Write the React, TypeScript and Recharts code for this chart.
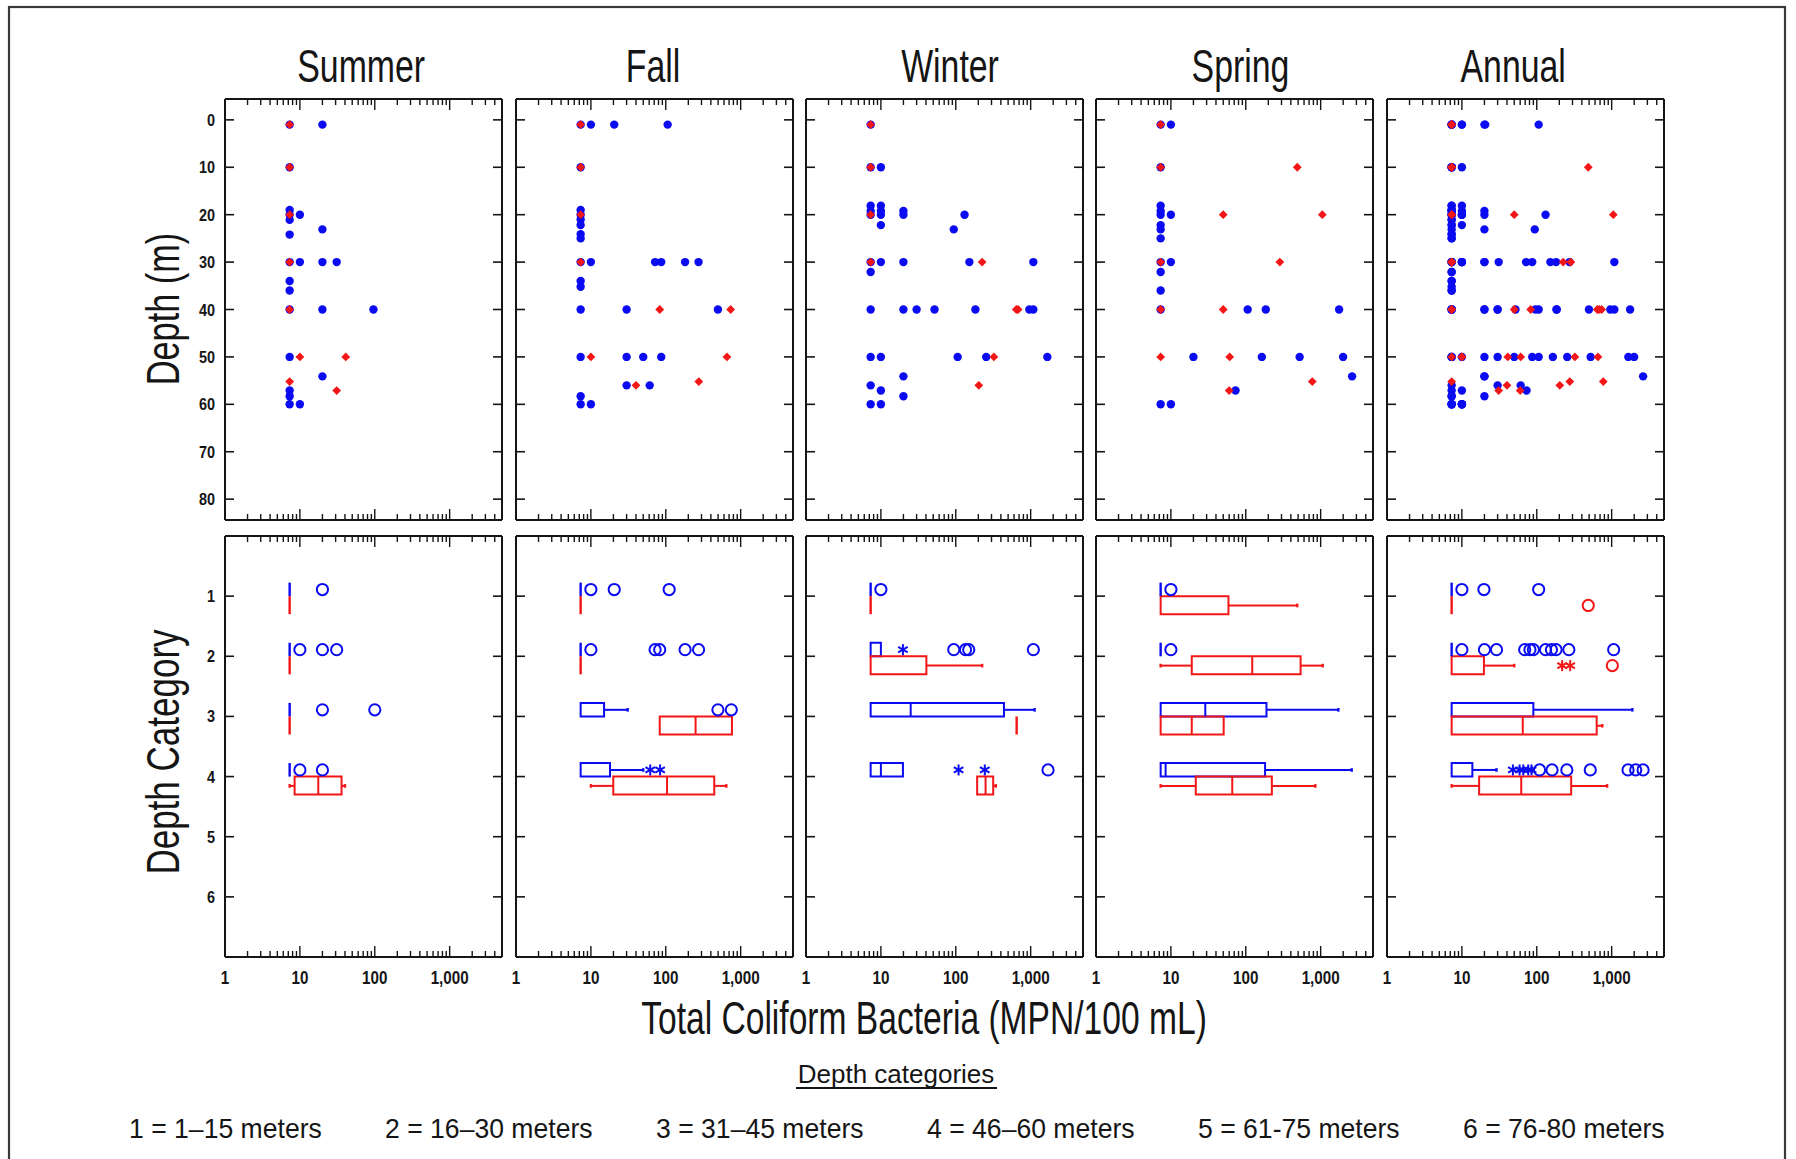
import React from 'react';
import { ScatterChart, Scatter, XAxis, YAxis, ReferenceArea, ReferenceLine } from 'recharts';

type Pt = [number, number];
type Box = [number, number, number, number, number, number]; // cat, min, q1, median, q3, max

const SEASONS = ['Summer', 'Fall', 'Winter', 'Spring', 'Annual'];
const DEPTH_TICKS = [0, 10, 20, 30, 40, 50, 60, 70, 80];
const CATEGORY_TICKS = [1, 2, 3, 4, 5, 6];
const LOG_TICKS = [1, 2, 3, 4, 5, 6, 7, 8, 9, 10, 20, 30, 40, 50, 60, 70, 80, 90, 100, 200, 300, 400, 500, 600, 700, 800, 900, 1000, 2000, 3000, 4000, 5000];
const MAJOR_TICKS = [1, 10, 100, 1000];
const X_TICK_LABELS = ['1', '10', '100', '1,000'];
const LEGEND_ITEMS = ['1 = 1–15 meters', '2 = 16–30 meters', '3 = 31–45 meters', '4 = 46–60 meters', '5 = 61-75 meters', '6 = 76-80 meters'];

// ---- Top row: individual samples [value, depth] ----
const summerBlue: Pt[] = [[7.3, 1], [20, 1], [7.3, 10], [7.3, 19], [7.3, 20], [10, 20], [7.3, 21.1], [20, 23.1], [7.3, 24.2], [7.3, 30], [10, 30], [20, 30], [31, 30], [7.3, 34], [7.3, 36], [7.3, 40], [20, 40], [96, 40], [7.3, 50], [20, 54.1], [7.3, 57.1], [7.3, 58.3], [7.3, 60], [10, 60]];
const summerRed: Pt[] = [[7.3, 1], [7.3, 10], [7.3, 20], [7.3, 30], [7.3, 40], [10, 50], [41, 50], [7.3, 55.2], [31, 57.1]];

const fallBlue: Pt[] = [[7.3, 1], [10, 1], [20.5, 1], [106, 1], [7.3, 10], [7.3, 19], [7.3, 20], [7.3, 21], [7.3, 22.2], [7.3, 24.1], [7.3, 25], [7.3, 30], [10, 30], [72, 30], [87, 30], [181, 30], [274, 30], [7.3, 34], [7.3, 35.2], [7.3, 40], [30, 40], [497, 40], [7.3, 50], [30, 50], [50, 50], [87, 50], [30, 56], [61, 56], [7.3, 58.3], [7.3, 60], [10, 60]];
const fallRed: Pt[] = [[7.3, 1], [7.3, 10], [7.3, 20], [7.3, 30], [83, 40], [735, 40], [10, 50], [656, 50], [40, 56], [276, 55.2]];

const winterBlue: Pt[] = [[7.3, 1], [7.3, 10], [10, 10], [7.3, 18.1], [10, 18.1], [7.3, 19.2], [10, 19.2], [20, 19.2], [7.3, 20], [10, 20], [20, 20], [131, 20], [10, 22.2], [94, 23.1], [7.3, 30], [10, 30], [20, 30], [152, 30], [1086, 30], [7.3, 32.1], [7.3, 40], [20, 40], [30, 40], [52, 40], [183, 40], [960, 40], [1086, 40], [7.3, 50], [10, 50], [106, 50], [255, 50], [1670, 50], [20, 54.1], [7.3, 56], [10, 57.1], [20, 58.3], [7.3, 60], [10, 60]];
const winterRed: Pt[] = [[7.3, 1], [7.3, 10], [7.3, 20], [7.3, 30], [225, 30], [643, 40], [680, 40], [323, 50], [203, 56]];

const springBlue: Pt[] = [[7.3, 1], [10, 1], [7.3, 10], [7.3, 18.1], [7.3, 19.2], [7.3, 20], [10, 20], [7.3, 22.2], [7.3, 23.1], [7.3, 25], [7.3, 30], [10, 30], [7.3, 32.1], [7.3, 36], [7.3, 40], [106, 40], [185, 40], [1763, 40], [20, 50], [164, 50], [524, 50], [1995, 50], [2630, 54.1], [73, 57.1], [7.3, 60], [10, 60]];
const springRed: Pt[] = [[7.3, 1], [7.3, 10], [487, 10], [50, 20], [1052, 20], [7.3, 30], [285, 30], [7.3, 40], [50, 40], [7.3, 50], [61, 50], [773, 55.2], [60, 57.1]];

const annualBlue: Pt[] = [...summerBlue, ...fallBlue, ...winterBlue, ...springBlue];
const annualRed: Pt[] = [...summerRed, ...fallRed, ...winterRed, ...springRed];

// ---- Bottom row: box plots per depth category ----
const summerBlueBoxes: Box[] = [[1, 7.3, 7.3, 7.3, 7.3, 7.3], [2, 7.3, 7.3, 7.3, 7.3, 7.3], [3, 7.3, 7.3, 7.3, 7.3, 7.3], [4, 7.3, 7.3, 7.3, 7.3, 7.3]];
const summerRedBoxes: Box[] = [[1, 7.3, 7.3, 7.3, 7.3, 7.3], [2, 7.3, 7.3, 7.3, 7.3, 7.3], [3, 7.3, 7.3, 7.3, 7.3, 7.3], [4, 7.3, 8.5, 17.6, 36, 40]];
const fallBlueBoxes: Box[] = [[1, 7.3, 7.3, 7.3, 7.3, 7.3], [2, 7.3, 7.3, 7.3, 7.3, 7.3], [3, 7.3, 7.3, 7.3, 15, 31], [4, 7.3, 7.3, 7.3, 18, 50]];
const fallRedBoxes: Box[] = [[1, 7.3, 7.3, 7.3, 7.3, 7.3], [2, 7.3, 7.3, 7.3, 7.3, 7.3], [3, 83, 83, 250, 765, 765], [4, 10, 19.9, 104, 444, 643]];
const winterBlueBoxes: Box[] = [[1, 7.3, 7.3, 7.3, 7.3, 7.3], [2, 7.3, 7.3, 7.3, 10, 10], [3, 7.3, 7.3, 25, 440, 1130], [4, 7.3, 7.3, 10, 19.7, 19.7]];
const winterRedBoxes: Box[] = [[1, 7.3, 7.3, 7.3, 7.3, 7.3], [2, 7.3, 7.3, 7.3, 40.5, 225], [3, 650, 650, 650, 650, 650], [4, 193, 193, 250, 316, 343]];
const springBlueBoxes: Box[] = [[1, 7.3, 7.3, 7.3, 7.3, 7.3], [2, 7.3, 7.3, 7.3, 7.3, 7.3], [3, 7.3, 7.3, 28.8, 189, 1725], [4, 7.3, 7.3, 8.5, 181, 2600]];
const springRedBoxes: Box[] = [[1, 7.3, 7.3, 7.3, 58.7, 487], [2, 7.3, 19, 122, 540, 1065], [3, 7.3, 7.3, 19, 50.7, 50.7], [4, 7.3, 21.5, 66, 223, 850]];
const annualBlueBoxes: Box[] = [[1, 7.3, 7.3, 7.3, 7.3, 7.3], [2, 7.3, 7.3, 7.3, 7.3, 7.3], [3, 7.3, 7.3, 7.3, 90, 1890], [4, 7.3, 7.3, 7.3, 13.8, 29]];
const annualRedBoxes: Box[] = [[1, 7.3, 7.3, 7.3, 7.3, 7.3], [2, 7.3, 7.3, 7.3, 19.7, 50], [3, 7.3, 7.3, 65, 631, 750], [4, 7.3, 17, 62, 288, 870]];

// outliers [value, category]
const summerBlueCircles: Pt[] = [[20, 1], [10, 2], [20, 2], [31, 2], [20, 3], [100, 3], [10, 4], [20, 4]];
const fallBlueCircles: Pt[] = [[10, 1], [20.5, 1], [111, 1], [10, 2], [72, 2], [83, 2], [181, 2], [274, 2], [497, 3], [750, 3]];
const fallBlueStars: Pt[] = [[62, 4], [84, 4]];
const winterBlueCircles: Pt[] = [[10, 1], [94, 2], [135, 2], [149, 2], [1086, 2], [1706, 4]];
const winterBlueStars: Pt[] = [[19.7, 2], [109, 4], [244, 4]];
const springBlueCircles: Pt[] = [[10, 1], [10, 2]];
const annualBlueCircles: Pt[] = [[10, 1], [19.7, 1], [106, 1], [10, 2], [20, 2], [29, 2], [69, 2], [81, 2], [90, 2], [131, 2], [157, 2], [181, 2], [268, 2], [1064, 2], [109, 4], [160, 4], [252, 4], [518, 4], [1655, 4], [2095, 4], [2630, 4]];
const annualBlueStars: Pt[] = [[48, 4], [59, 4], [66, 4], [77, 4], [85, 4]];
const annualRedCircles: Pt[] = [[487, 1], [1021, 2]];
const annualRedStars: Pt[] = [[218, 2], [279, 2]];
const none: Pt[] = [];

const TOP_BLUE = [summerBlue, fallBlue, winterBlue, springBlue, annualBlue];
const TOP_RED = [summerRed, fallRed, winterRed, springRed, annualRed];
const BLUE_BOXES = [summerBlueBoxes, fallBlueBoxes, winterBlueBoxes, springBlueBoxes, annualBlueBoxes];
const RED_BOXES = [summerRedBoxes, fallRedBoxes, winterRedBoxes, springRedBoxes, annualRedBoxes];
const BLUE_CIRCLES = [summerBlueCircles, fallBlueCircles, winterBlueCircles, springBlueCircles, annualBlueCircles];
const BLUE_STARS = [none, fallBlueStars, winterBlueStars, none, annualBlueStars];
const RED_CIRCLES = [none, none, none, none, annualRedCircles];
const RED_STARS = [none, none, none, none, annualRedStars];

// ---- layout / style ----
const BLUE = '#0b0bf2';
const RED = '#f21616';
const INK = '#151515';
const FONT = "'Liberation Sans', Arial, Helvetica, sans-serif";
const PANEL_LEFTS = [224.7, 515.5, 805.5, 1096, 1386.7];
const TITLE_SHIFT = [-2, -1, 6, 6, -12];
const LEGEND_X = [129, 385, 656, 927, 1198, 1463];
const TOP_ROW_Y = 99.3;
const BOTTOM_ROW_Y = 535.5;
const PLOT_W = 277;
const PLOT_H = 421;
const LEFT_W = 60;
const RIGHT_W = 10;
const TOP_H = 10;
const BOTTOM_H = 50;
const W = LEFT_W + PLOT_W + RIGHT_W;
const H = TOP_H + PLOT_H + BOTTOM_H;
const DEPTH_DOMAIN: [number, number] = [-4.4, 84.4];
const CAT_DOMAIN: [number, number] = [0, 7];
const BLUE_BAND: [number, number] = [-0.225, 0];
const RED_BAND: [number, number] = [0, 0.3];
const BLUE_MID = -0.11;
const RED_MID = 0.155;
const AXIS_LINE = { stroke: INK, strokeWidth: 2 };

const toXY = (pts: Pt[], dy = 0) => pts.map(([x, y]) => ({ x, y: y + dy }));

const xTick = (edge: 'top' | 'bottom', labels: boolean) => (p: any) => {
  const v = p.payload.value;
  const i = MAJOR_TICKS.indexOf(v);
  const len = i >= 0 ? 11 : 6;
  const dir = edge === 'top' ? 1 : -1;
  return (
    <g>
      <line x1={p.x} x2={p.x} y1={p.y} y2={p.y + dir * len} stroke={INK} strokeWidth={1.4} />
      {labels && i >= 0 && (
        <text transform={`translate(${p.x},${p.y + 27}) scale(0.8,1)`} textAnchor="middle" fontFamily={FONT} fontWeight="bold" fontSize={19} fill={INK}>
          {X_TICK_LABELS[i]}
        </text>
      )}
    </g>
  );
};

const yTick = (edge: 'left' | 'right', labels: boolean) => (p: any) => {
  const dir = edge === 'left' ? 1 : -1;
  return (
    <g>
      <line x1={p.x} x2={p.x + dir * 9} y1={p.y} y2={p.y} stroke={INK} strokeWidth={1.6} />
      {labels && (
        <text transform={`translate(${p.x - 10},${p.y + 6}) scale(0.85,1)`} textAnchor="end" fontFamily={FONT} fontWeight="bold" fontSize={17} fill={INK}>
          {p.payload.value}
        </text>
      )}
    </g>
  );
};

const blueDot = (p: any) => <circle cx={p.cx} cy={p.cy} r={4.2} fill={BLUE} />;
const redDiamond = (p: any) => (
  <polygon points={`${p.cx},${p.cy - 4.4} ${p.cx + 4.4},${p.cy} ${p.cx},${p.cy + 4.4} ${p.cx - 4.4},${p.cy}`} fill={RED} />
);
const ring = (color: string) => (p: any) => <circle cx={p.cx} cy={p.cy} r={5.6} fill="none" stroke={color} strokeWidth={2} />;
const star = (color: string) => (p: any) => {
  const r = 5.5;
  const a = r * Math.cos(Math.PI / 6);
  const b = r * Math.sin(Math.PI / 6);
  return (
    <g stroke={color} strokeWidth={2}>
      <line x1={p.cx} x2={p.cx} y1={p.cy - r} y2={p.cy + r} />
      <line x1={p.cx - a} x2={p.cx + a} y1={p.cy - b} y2={p.cy + b} />
      <line x1={p.cx - a} x2={p.cx + a} y1={p.cy + b} y2={p.cy - b} />
    </g>
  );
};

const seg = (key: string, x1: number, y1: number, x2: number, y2: number, color: string, w = 2) => (
  <ReferenceLine key={key} xAxisId="b" yAxisId="l" segment={[{ x: x1, y: y1 }, { x: x2, y: y2 }]} stroke={color} strokeWidth={w} ifOverflow="visible" />
);

function boxElements(boxes: Box[], color: string, band: [number, number], mid: number, tag: string) {
  const els: React.ReactElement[] = [];
  boxes.forEach(([cat, min, q1, med, q3, max]) => {
    const ya = cat + band[0];
    const yb = cat + band[1];
    const ym = cat + mid;
    const k = `${tag}-${cat}`;
    if (q3 > q1) {
      els.push(
        <ReferenceArea key={`${k}-box`} xAxisId="b" yAxisId="l" x1={q1} x2={q3} y1={ya} y2={yb} fill="none" fillOpacity={0} stroke={color} strokeWidth={2} ifOverflow="visible" />
      );
      if (med > q1 && med < q3) els.push(seg(`${k}-med`, med, ya, med, yb, color));
    } else {
      els.push(seg(`${k}-line`, q1, ya, q1, yb, color, 2.4));
    }
    if (min < q1) {
      els.push(seg(`${k}-wl`, min, ym, q1, ym, color));
      els.push(seg(`${k}-cl`, min, ym - 0.03, min, ym + 0.03, color, 2.4));
    }
    if (max > q3) {
      els.push(seg(`${k}-wr`, q3, ym, max, ym, color));
      els.push(seg(`${k}-cr`, max, ym - 0.03, max, ym + 0.03, color, 2.4));
    }
  });
  return els;
}

function Panel({ left, top, depth, showY, children }: { left: number; top: number; depth: boolean; showY: boolean; children: React.ReactNode }) {
  return (
    <div style={{ position: 'absolute', left: left - LEFT_W, top: top - TOP_H, width: W, height: H }}>
      <ScatterChart width={W} height={H} margin={{ top: 0, right: 0, bottom: 0, left: 0 }}>
        <XAxis xAxisId="b" orientation="bottom" type="number" dataKey="x" scale="log" domain={[1, 5000]} allowDataOverflow ticks={LOG_TICKS} interval={0} tickSize={0} tickMargin={0} tickLine={false} axisLine={AXIS_LINE} height={BOTTOM_H} tick={xTick('bottom', !depth)} />
        <XAxis xAxisId="t" orientation="top" type="number" dataKey="x" scale="log" domain={[1, 5000]} allowDataOverflow ticks={LOG_TICKS} interval={0} tickSize={0} tickMargin={0} tickLine={false} axisLine={AXIS_LINE} height={TOP_H} tick={xTick('top', false)} />
        <YAxis yAxisId="l" orientation="left" type="number" dataKey="y" domain={depth ? DEPTH_DOMAIN : CAT_DOMAIN} reversed allowDataOverflow ticks={depth ? DEPTH_TICKS : CATEGORY_TICKS} interval={0} tickSize={0} tickMargin={0} tickLine={false} axisLine={AXIS_LINE} width={LEFT_W} tick={yTick('left', showY)} />
        <YAxis yAxisId="r" orientation="right" type="number" dataKey="y" domain={depth ? DEPTH_DOMAIN : CAT_DOMAIN} reversed allowDataOverflow ticks={depth ? DEPTH_TICKS : CATEGORY_TICKS} interval={0} tickSize={0} tickMargin={0} tickLine={false} axisLine={AXIS_LINE} width={RIGHT_W} tick={yTick('right', false)} />
        <Scatter xAxisId="t" yAxisId="r" data={[]} isAnimationActive={false} />
        {children}
      </ScatterChart>
    </div>
  );
}

function NText({ x, y, size, sx = 1, anchor = 'middle', weight = 'normal', rotate = 0, children }: any) {
  return (
    <text transform={`translate(${x},${y}) rotate(${rotate}) scale(${sx},1)`} textAnchor={anchor} fontFamily={FONT} fontSize={size} fontWeight={weight} fill={INK}>
      {children}
    </text>
  );
}

export default function App() {
  return (
    <div style={{ position: 'absolute', left: 0, top: 0, width: 1796, height: 1159, background: '#fff', overflow: 'hidden' }}>
      <svg width={1796} height={1159} style={{ position: 'absolute', left: 0, top: 0 }}>
        <rect x={9} y={7} width={1776} height={1200} fill="none" stroke="#3a3a3a" strokeWidth={2.2} />
        {SEASONS.map((s, i) => (
          <NText key={s} x={PANEL_LEFTS[i] + PLOT_W / 2 + TITLE_SHIFT[i]} y={81.5} size={47} sx={0.72}>{s}</NText>
        ))}
        <NText x={179} y={309} size={47} sx={0.73} rotate={-90}>Depth (m)</NText>
        <NText x={179} y={752} size={47} sx={0.745} rotate={-90}>Depth Category</NText>
        <NText x={924} y={1034} size={47} sx={0.715}>Total Coliform Bacteria (MPN/100 mL)</NText>
        <NText x={896} y={1083} size={26} sx={1.0}>Depth categories</NText>
        <line x1={796} x2={997} y1={1088} y2={1088} stroke={INK} strokeWidth={1.8} />
        {LEGEND_ITEMS.map((t, i) => (
          <NText key={t} x={LEGEND_X[i]} y={1137.5} size={27} sx={0.985} anchor="start">{t}</NText>
        ))}
      </svg>
      {SEASONS.map((s, i) => (
        <Panel key={`top-${s}`} left={PANEL_LEFTS[i]} top={TOP_ROW_Y} depth showY={i === 0}>
          {[
            <Scatter key="blue" xAxisId="b" yAxisId="l" data={toXY(TOP_BLUE[i])} shape={blueDot} isAnimationActive={false} />,
            <Scatter key="red" xAxisId="b" yAxisId="l" data={toXY(TOP_RED[i])} shape={redDiamond} isAnimationActive={false} />,
          ]}
        </Panel>
      ))}
      {SEASONS.map((s, i) => (
        <Panel key={`bot-${s}`} left={PANEL_LEFTS[i]} top={BOTTOM_ROW_Y} depth={false} showY={i === 0}>
          {[
            ...boxElements(BLUE_BOXES[i], BLUE, BLUE_BAND, BLUE_MID, 'b'),
            ...boxElements(RED_BOXES[i], RED, RED_BAND, RED_MID, 'r'),
            <Scatter key="bc" xAxisId="b" yAxisId="l" data={toXY(BLUE_CIRCLES[i], BLUE_MID)} shape={ring(BLUE)} isAnimationActive={false} />,
            <Scatter key="bs" xAxisId="b" yAxisId="l" data={toXY(BLUE_STARS[i], BLUE_MID)} shape={star(BLUE)} isAnimationActive={false} />,
            <Scatter key="rc" xAxisId="b" yAxisId="l" data={toXY(RED_CIRCLES[i], RED_MID)} shape={ring(RED)} isAnimationActive={false} />,
            <Scatter key="rs" xAxisId="b" yAxisId="l" data={toXY(RED_STARS[i], RED_MID)} shape={star(RED)} isAnimationActive={false} />,
          ]}
        </Panel>
      ))}
    </div>
  );
}
